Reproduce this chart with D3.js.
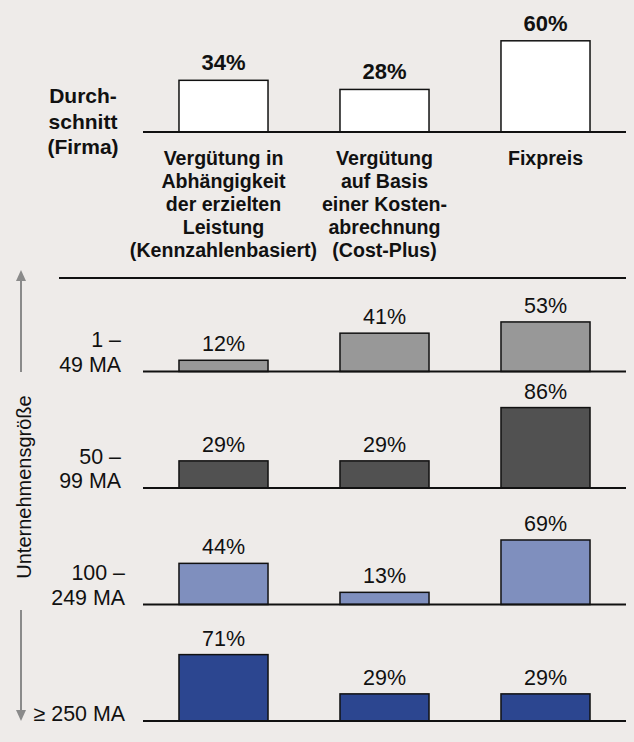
<!DOCTYPE html>
<html>
<head>
<meta charset="utf-8">
<script src="https://cdn.jsdelivr.net/npm/d3@7"></script>
<style>
  html, body { margin: 0; padding: 0; background: #eeebe9; }
  svg text { font-family: Arial, "Liberation Sans", sans-serif; fill: #111; }
</style>
</head>
<body>
<div id="chart"></div>
<script>
// categories (column headers, split into lines as in the original)
const categories = ["perf", "cost", "fix"];
const categoryLines = [
  ["Vergütung in", "Abhängigkeit", "der erzielten", "Leistung", "(Kennzahlenbasiert)"],
  ["Vergütung", "auf Basis", "einer Kosten-", "abrechnung", "(Cost-Plus)"],
  ["Fixpreis"]
];
const averageLabel = ["Durch-", "schnitt", "(Firma)"];
const averageValues = [34, 28, 60];

// company size groups
const sizeLabels = [["1 –", "49 MA"], ["50 –", "99 MA"], ["100 –", "249 MA"], ["≥ 250 MA"]];
const sizeValues = [
  [12, 41, 53],
  [29, 29, 86],
  [44, 13, 69],
  [71, 29, 29]
];
const sizeColors = ["#989898", "#515151", "#7f8fbe", "#2c4690"];
const axisTitle = "Unternehmensgröße";

const width = 634, height = 742;

const svg = d3.select("#chart")
  .append("svg")
  .attr("width", width)
  .attr("height", height);

svg.append("rect").attr("width", width).attr("height", height).attr("fill", "#eeebe9");

// shared horizontal scale
const x = d3.scaleBand()
  .domain(categories)
  .range([143, 626])
  .paddingInner(0.447)
  .paddingOuter(0.2235);

// ---- average (top) block
const topBase = 132;
const yTop = d3.scaleLinear().domain([0, 100]).range([topBase, topBase - 152]);

const avgGroup = svg.append("g");
avgGroup.selectAll("rect")
  .data(averageValues)
  .enter()
  .append("rect")
  .attr("x", (d, i) => x(categories[i]))
  .attr("y", d => yTop(d))
  .attr("width", x.bandwidth())
  .attr("height", d => yTop(0) - yTop(d))
  .attr("fill", "#fff")
  .attr("stroke", "#111")
  .attr("stroke-width", 1.5);

avgGroup.selectAll(".val")
  .data(averageValues)
  .enter()
  .append("text")
  .attr("class", "val")
  .attr("x", (d, i) => x(categories[i]) + x.bandwidth() / 2)
  .attr("y", d => yTop(d) - 10)
  .attr("text-anchor", "middle")
  .style("font-size", "22px")
  .style("font-weight", "bold")
  .text(d => d + "%");

avgGroup.append("line")
  .attr("x1", 143).attr("x2", 626)
  .attr("y1", topBase).attr("y2", topBase)
  .attr("stroke", "#111").attr("stroke-width", 2);

avgGroup.append("text")
  .attr("text-anchor", "middle")
  .style("font-size", "21px")
  .style("font-weight", "bold")
  .selectAll("tspan")
  .data(averageLabel)
  .enter()
  .append("tspan")
  .attr("x", 83)
  .attr("y", (d, i) => 103 + i * 25.5)
  .text(d => d);

// category headers
categoryLines.forEach((lines, i) => {
  avgGroup.append("text")
    .attr("text-anchor", "middle")
    .style("font-size", "19.6px")
    .style("font-weight", "bold")
    .selectAll("tspan")
    .data(lines)
    .enter()
    .append("tspan")
    .attr("x", x(categories[i]) + x.bandwidth() / 2)
    .attr("y", (d, j) => 165 + j * 23)
    .text(d => d);
});

// separator
svg.append("line")
  .attr("x1", 59).attr("x2", 626)
  .attr("y1", 278).attr("y2", 278)
  .attr("stroke", "#111").attr("stroke-width", 2);

// ---- size groups
const rowBase0 = 371.5, rowStep = 116.5;
const rowHeight = 93.5;

sizeValues.forEach((vals, r) => {
  const base = rowBase0 + r * rowStep;
  const y = d3.scaleLinear().domain([0, 100]).range([base, base - rowHeight]);
  const g = svg.append("g");

  g.selectAll("rect")
    .data(vals)
    .enter()
    .append("rect")
    .attr("x", (d, i) => x(categories[i]))
    .attr("y", d => y(d))
    .attr("width", x.bandwidth())
    .attr("height", d => y(0) - y(d))
    .attr("fill", sizeColors[r])
    .attr("stroke", "#111")
    .attr("stroke-width", 1.5);

  g.selectAll(".val")
    .data(vals)
    .enter()
    .append("text")
    .attr("class", "val")
    .attr("x", (d, i) => x(categories[i]) + x.bandwidth() / 2)
    .attr("y", d => y(d) - 9)
    .attr("text-anchor", "middle")
    .style("font-size", "21.5px")
    .text(d => d + "%");

  g.append("line")
    .attr("x1", 143).attr("x2", 626)
    .attr("y1", base).attr("y2", base)
    .attr("stroke", "#111").attr("stroke-width", 2);

  const lines = sizeLabels[r];
  g.append("text")
    .attr("text-anchor", "end")
    .style("font-size", "21.4px")
    .selectAll("tspan")
    .data(lines)
    .enter()
    .append("tspan")
    .attr("x", r < 2 ? 121 : 125)
    .attr("y", (d, j) => base - (lines.length - 1 - j) * 24.5)
    .text(d => d);
});

// axis title with arrows
const arrowX = 21;
svg.append("text")
  .attr("transform", `translate(31, 487) rotate(-90)`)
  .attr("text-anchor", "middle")
  .style("font-size", "20px")
  .text(axisTitle);

const arrowColor = "#8a8a8a";
svg.append("line")
  .attr("x1", arrowX).attr("x2", arrowX)
  .attr("y1", 372).attr("y2", 279)
  .attr("stroke", arrowColor).attr("stroke-width", 2);
svg.append("path")
  .attr("d", `M${arrowX},270 L${arrowX - 5},281 L${arrowX + 5},281 Z`)
  .attr("fill", arrowColor);

svg.append("line")
  .attr("x1", arrowX).attr("x2", arrowX)
  .attr("y1", 610).attr("y2", 712)
  .attr("stroke", arrowColor).attr("stroke-width", 2);
svg.append("path")
  .attr("d", `M${arrowX},721 L${arrowX - 5},710 L${arrowX + 5},710 Z`)
  .attr("fill", arrowColor);
</script>
</body>
</html>
